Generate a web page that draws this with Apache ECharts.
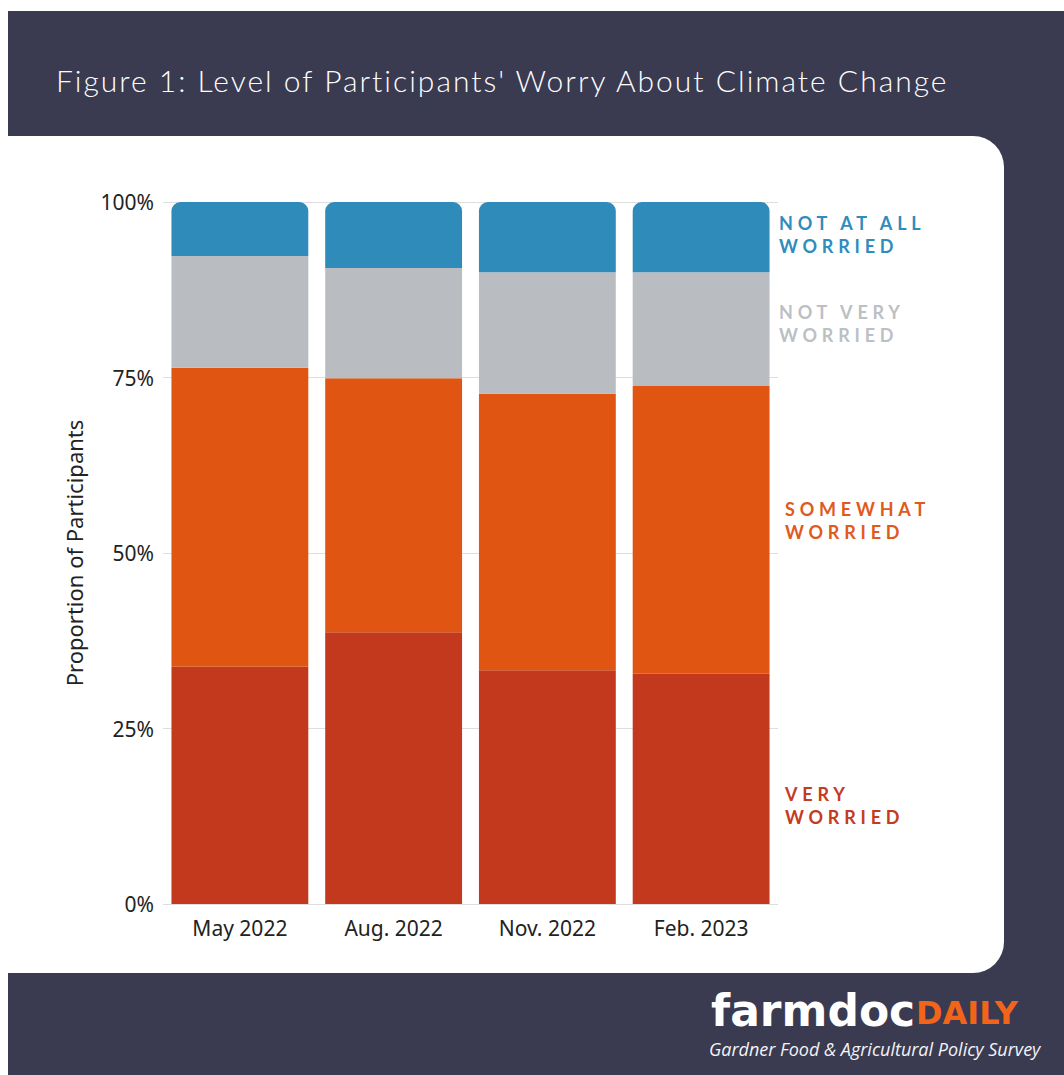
<!DOCTYPE html>
<html>
<head>
<meta charset="utf-8">
<title>Level of Participants' Worry About Climate Change</title>
<script src="https://cdn.jsdelivr.net/npm/echarts@6/dist/echarts.min.js"></script>
<style>
  html, body { margin: 0; padding: 0; background: #ffffff; }
  #chart { width: 1064px; height: 1075px; }
  /* tracked caps for the category callouts and the heading */
  #chart text[fill="#2f8cbd"],
  #chart text[fill="#bcbfc4"],
  #chart text[fill="#e05a1c"],
  #chart text[fill="#c53b20"] { letter-spacing: 4.8px; }
  #chart text[fill="#fefefe"] { letter-spacing: 2px; }
</style>
</head>
<body>
<div id="chart"></div>
<script>
// Survey waves
const waves = ['May 2022', 'Aug. 2022', 'Nov. 2022', 'Feb. 2023'];

// Share of participants (%) in each worry level, per wave
const veryWorried      = [33.8, 38.7, 33.3, 32.8];
const somewhatWorried  = [42.6, 36.2, 39.4, 41.0];
const notVeryWorried   = [15.9, 15.7, 17.3, 16.2];
const notAtAllWorried  = [7.7, 9.4, 10.0, 10.0];

// Y axis ticks (%)
const yTicks = [0, 25, 50, 75, 100];

const NAVY = '#3a3a51';
const C_BLUE = '#2e8bba', C_GRAY = '#b9bcc1', C_ORANGE = '#df5511', C_RED = '#c3391e';
const AXIS_FONT = '"Noto Sans", sans-serif';

const chart = echarts.init(document.getElementById('chart'), null, { renderer: 'svg' });

const callout = (text, x, y, color) => ({
  type: 'text', left: x, top: y, z: 5,
  style: {
    text, fill: color, font: 'bold 18px Lato, "Open Sans", sans-serif',
    lineHeight: 23
  }
});

const barSeries = (name, data, color, extra) => Object.assign({
  name, type: 'bar', stack: 'total', data,
  barCategoryGap: '11%',
  itemStyle: { color },
  emphasis: { disabled: true }
}, extra || {});

chart.setOption({
  animation: false,
  backgroundColor: '#ffffff',
  graphic: [
    // dark frame
    { type: 'rect', z: -2, shape: { x: 8, y: 11, width: 1056, height: 1064 }, style: { fill: NAVY } },
    // white card
    { type: 'rect', z: -1, shape: { x: 8, y: 136, width: 996, height: 837, r: [0, 31, 31, 0] }, style: { fill: '#ffffff' } },
    // heading
    { type: 'text', x: 56, y: 80, z: 5,
      style: { text: "Figure 1: Level of Participants' Worry About Climate Change",
               fill: '#fefefe', font: '300 30px Lato, "Open Sans", sans-serif',
               textVerticalAlign: 'middle' } },
    // category callouts
    callout('NOT AT ALL\nWORRIED', 779, 211, '#2f8cbd'),
    callout('NOT VERY\nWORRIED', 779, 300, '#bcbfc4'),
    callout('SOMEWHAT\nWORRIED', 785, 497, '#e05a1c'),
    callout('VERY\nWORRIED', 785, 782, '#c53b20'),
    // brand
    { type: 'text', x: 711, y: 1010, z: 5,
      style: { text: 'farmdoc', fill: '#ffffff', font: 'bold 44px "DejaVu Sans", sans-serif',
               textVerticalAlign: 'middle' } },
    { type: 'text', x: 916, y: 1013, z: 5,
      style: { text: 'DAILY', fill: '#f26419', font: 'bold 32px "DejaVu Sans", sans-serif',
               textVerticalAlign: 'middle' } },
    { type: 'text', x: 709, y: 1049, z: 5,
      style: { text: 'Gardner Food & Agricultural Policy Survey', fill: '#f4f4f6',
               font: 'italic 18px "Open Sans", sans-serif', textVerticalAlign: 'middle' } }
  ],
  grid: { left: 163, right: 286, top: 202, bottom: 171, containLabel: false },
  xAxis: {
    type: 'category',
    data: waves,
    axisLine: { show: false },
    axisTick: { show: false },
    axisLabel: { color: '#222222', fontSize: 21, fontFamily: AXIS_FONT, margin: 13 }
  },
  yAxis: {
    type: 'value',
    min: yTicks[0], max: yTicks[yTicks.length - 1], interval: yTicks[1] - yTicks[0],
    name: 'Proportion of Participants',
    nameLocation: 'middle',
    nameGap: 78,
    nameTextStyle: { color: '#222222', fontSize: 22, fontFamily: AXIS_FONT },
    axisLine: { show: false },
    axisTick: { show: false },
    axisLabel: { color: '#222222', fontSize: 21, fontFamily: AXIS_FONT, margin: 9,
                 formatter: '{value}%' },
    splitLine: { lineStyle: { color: '#dedede', width: 1 } }
  },
  series: [
    barSeries('Very worried', veryWorried, C_RED),
    barSeries('Somewhat worried', somewhatWorried, C_ORANGE),
    barSeries('Not very worried', notVeryWorried, C_GRAY),
    barSeries('Not at all worried', notAtAllWorried, C_BLUE, { itemStyle: { color: C_BLUE, borderRadius: [9, 9, 0, 0] } })
  ]
});
</script>
</body>
</html>
